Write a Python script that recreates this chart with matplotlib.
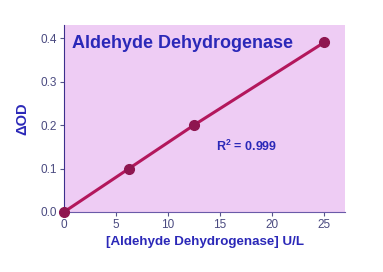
import matplotlib
matplotlib.use("Agg")
import matplotlib.pyplot as plt

# standard curve values
conc = [0, 6.25, 12.5, 25]
delta_od = [0.0, 0.1, 0.2, 0.39]
x_ticks = [0, 5, 10, 15, 20, 25]
y_ticks = [0.0, 0.1, 0.2, 0.3, 0.4]

plt.rcParams['font.family'] = ['Liberation Sans', 'DejaVu Sans']
plt.rcParams['mathtext.fontset'] = 'custom'
plt.rcParams['mathtext.bf'] = 'Liberation Sans:bold'

text_blue = '#2B28B8'

fig = plt.figure(figsize=(3.83, 2.72), dpi=100)
ax = fig.add_axes([64 / 383, 1 - 212 / 272, (345 - 64) / 383, (212 - 25) / 272])
ax.set_facecolor('#EECCF4')

ax.plot(conc, delta_od, color='#B3175C', linewidth=2.2, zorder=2)
ax.plot(conc, delta_od, 'o', color='#8E1650', markersize=7, zorder=3, clip_on=False)

ax.set_xlim(0, 27)
ax.set_ylim(0, 0.43)
ax.set_xticks(x_ticks)
ax.set_yticks(y_ticks)
ax.set_yticklabels([f'{v:.1f}' for v in y_ticks])

for side in ['top', 'right']:
    ax.spines[side].set_visible(False)
ax.spines['left'].set_color('#3C2E8C')
ax.spines['bottom'].set_color('#6A5AA8')
ax.tick_params(colors='#55558A', labelsize=8.5, length=3, width=0.8,
               labelcolor='#4A4A80', pad=2)

ax.set_xlabel('[Aldehyde Dehydrogenase] U/L', color=text_blue,
              fontsize=9.6, fontweight='bold', labelpad=4)
ax.set_ylabel('\u0394OD', color=text_blue, fontsize=10.5, fontweight='bold', labelpad=8)

ax.text(0.03, 0.9, 'Aldehyde Dehydrogenase', transform=ax.transAxes,
        color=text_blue, fontsize=13, fontweight='bold', va='center', ha='left')
ax.text(0.54, 0.35, r'R$^{\mathbf{2}}$ = 0.999', transform=ax.transAxes,
        color=text_blue, fontsize=9, fontweight='bold', va='center', ha='left')

fig.savefig('out.png', dpi=100)
